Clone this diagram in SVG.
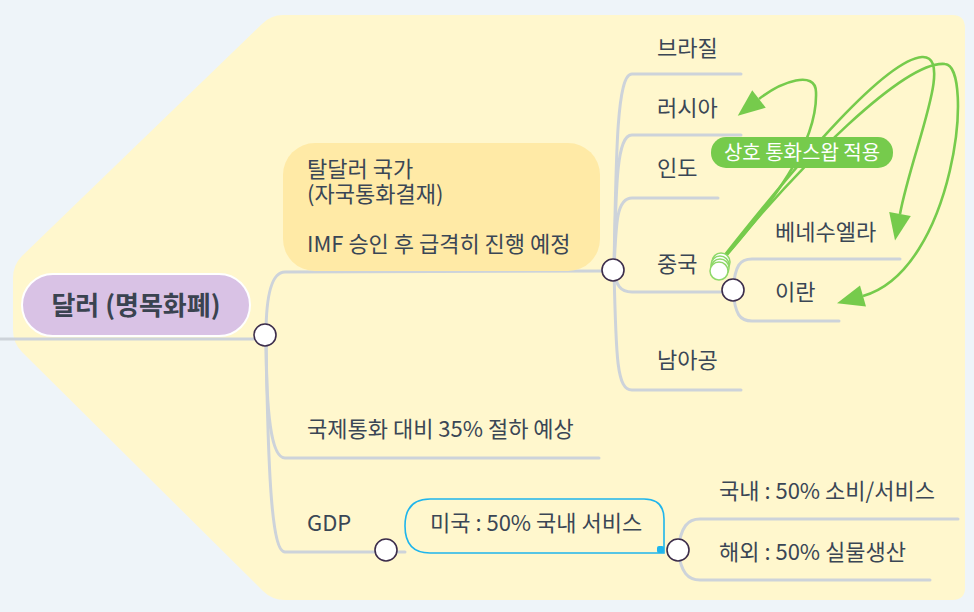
<svg xmlns="http://www.w3.org/2000/svg" width="974" height="612" viewBox="0 0 974 612">
<defs>
<style>
.t{font-family:"Noto Sans CJK KR","Noto Sans",sans-serif;font-size:22px;fill:#3a4655}
.b{stroke:#cdd3da;stroke-width:3;fill:none;stroke-linecap:round}
.c{fill:#fff;stroke:#3c2d4b;stroke-width:1.6}
.g{stroke:#76cb4c;stroke-width:2.6;fill:none}
.gc{fill:#fff;stroke:#8fd86a;stroke-width:1.5}
</style>
<marker id="ah" markerUnits="userSpaceOnUse" markerWidth="30" markerHeight="24" refX="0" refY="11" orient="auto" overflow="visible">
<path d="M0,0 L27,11 L0,22 Z" fill="#76cb4c"/>
</marker>
</defs>
<rect width="974" height="612" fill="#eef4f9"/>
<path d="M283 15 H952 Q965 15 965 28 V588 Q965 600 952 600 H285 Q272 600 263 591 L22 352 Q13 343 13 330 V278 Q13 265 22 256 L262 24 Q271 15 283 15 Z" fill="#fff7cd"/>
<g id="connectors">
<path class="b" d="M0 339 H258"/>
<path class="b" d="M266 335 C266 300 270 272 285 272 L603 271"/>
<path class="b" d="M266 335 C266 420 272 458 285 458 H599"/>
<path class="b" d="M266 335 C268 480 272 552 285 552 H405"/>
<path class="b" d="M614 270 C616 150 617 74 632 74 H741"/>
<path class="b" d="M614 270 C616 180 617 135 632 135 H741"/>
<path class="b" d="M614 270 C616 220 617 198 632 198 H718"/>
<path class="b" d="M614 270 C616 285 620 292 632 292 H722"/>
<path class="b" d="M614 270 C616 360 617 390 632 390 H741"/>
<path class="b" d="M733 290 C735 265 740 259 752 259 H900"/>
<path class="b" d="M733 290 C735 315 740 321 752 321 H839"/>
<path class="b" d="M678 550 C681 526 688 519 700 519 H958"/>
<path class="b" d="M678 550 C681 573 688 580 700 580 H930"/>
<path class="g" d="M724 258 C770 205 818 145 816 92 C815.5 70 782 81 759 99" marker-end="url(#ah)"/>
<path class="g" d="M724 256 C800 160 885 60 922 57 C955 55 912 150 900 214" marker-end="url(#ah)"/>
<path class="g" d="M724 258 C800 165 905 60 945 64 C975 66 955 270 863 296" marker-end="url(#ah)"/>
</g>
<g id="relation-label">
<rect x="711" y="137" width="182" height="31" rx="15" fill="#76cb4c"/>
<text class="t" x="802" y="160" text-anchor="middle" style="fill:#fff;font-size:20px">상호 통화스왑 적용</text>
</g>
<g id="root">
<rect x="22" y="274" width="228" height="62" rx="31" fill="#d9c2e5" stroke="#fff" stroke-width="2"/>
<text class="t" x="136" y="315" text-anchor="middle" style="font-size:26px;font-weight:bold;fill:#3a4350">달러 (명목화폐)</text>
<circle class="c" cx="265" cy="335" r="11"/>
</g>
<g id="n-taldollar">
<rect x="283" y="143" width="317" height="128" rx="32" fill="#ffeaa6"/>
<text class="t" x="307" y="177">탈달러 국가</text>
<text class="t" x="307" y="202">(자국통화결재)</text>
<text class="t" x="307" y="252">IMF 승인 후 급격히 진행 예정</text>
<circle class="c" cx="613" cy="270" r="11"/>
</g>
<g id="n-brazil"><text class="t" x="657" y="56">브라질</text></g>
<g id="n-russia"><text class="t" x="657" y="116">러시아</text></g>
<g id="n-india"><text class="t" x="657" y="176">인도</text></g>
<g id="n-china">
<text class="t" x="657" y="272">중국</text>
<circle class="gc" cx="721" cy="262" r="9"/>
<circle class="gc" cx="720" cy="265" r="9"/>
<circle class="gc" cx="720" cy="268" r="9"/>
<circle class="gc" cx="719" cy="271" r="9"/>
<circle class="c" cx="733" cy="290" r="11"/>
</g>
<g id="n-venezuela"><text class="t" x="775" y="240">베네수엘라</text></g>
<g id="n-iran"><text class="t" x="775" y="300">이란</text></g>
<g id="n-southafrica"><text class="t" x="657" y="368">남아공</text></g>
<g id="n-devalue"><text class="t" x="307" y="437">국제통화 대비 35% 절하 예상</text></g>
<g id="n-gdp">
<text class="t" x="307" y="531">GDP</text>
<circle class="c" cx="386" cy="550" r="11"/>
</g>
<g id="n-usa">
<path d="M430 499 H644 Q664 499 664 519 V553 H430 Q405 553 405 526 Q405 499 430 499 Z" fill="none" stroke="#1fb5ec" stroke-width="1.6"/>
<rect x="657" y="546" width="7" height="7" rx="2" fill="#1fb5ec"/>
<text class="t" x="430" y="531">미국 : 50% 국내 서비스</text>
<circle class="c" cx="678" cy="550" r="11"/>
</g>
<g id="n-domestic"><text class="t" x="719" y="499">국내 : 50% 소비/서비스</text></g>
<g id="n-overseas"><text class="t" x="719" y="560">해외 : 50% 실물생산</text></g>
</svg>
